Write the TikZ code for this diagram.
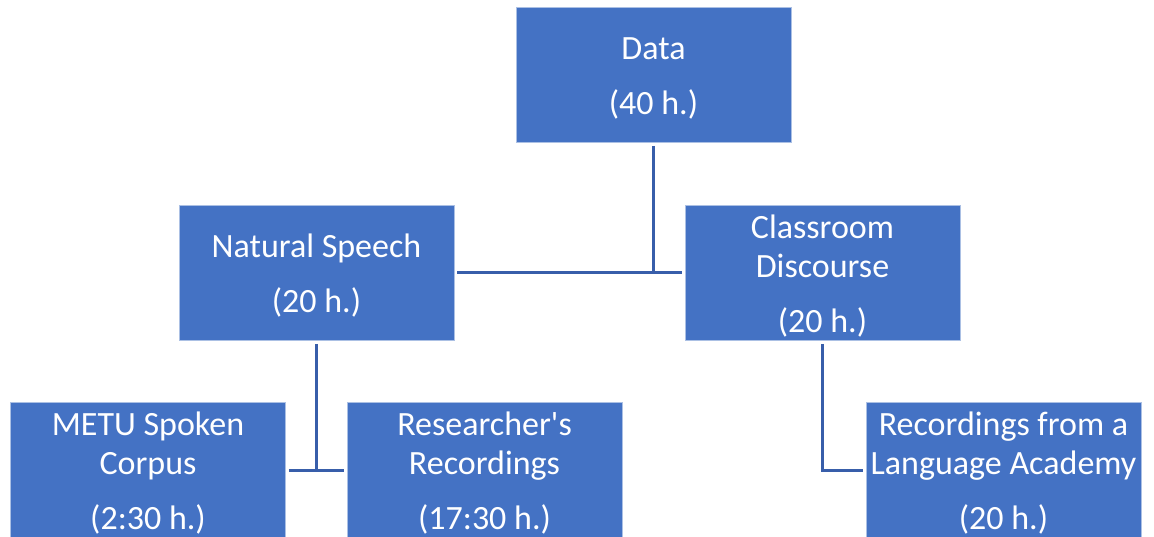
\documentclass[tikz,border=0pt]{standalone}
\usepackage{fontspec}
\setmainfont{Carlito}
\definecolor{boxblue}{RGB}{68,114,196}
\definecolor{linkblue}{RGB}{56,94,170}
\newcommand{\boxstrut}{\rule{0pt}{29pt}}

\begin{document}
\begin{tikzpicture}[x=1pt, y=-1pt,
          box/.style ={rectangle, fill=boxblue, draw=white!55!boxblue, line width=0.8,
                       minimum width=275, minimum height=135, inner sep=0,
                       text=white, align=center,
                       font=\fontsize{34}{39}\selectfont},
          link/.style ={draw=linkblue, line width=3, shorten <=3, shorten >=3}
          ]
\useasboundingbox (0,0) rectangle (1154,537);

% top level
\node[box] (data) at (653.5, 75) {\boxstrut Data\\[16pt](40 h.)};

% second level
\node[box] (nat) at (316.5, 273) {\boxstrut Natural Speech\\[16pt](20 h.)};
\node[box] (cls) at (822.5, 273) {\boxstrut Classroom\\Discourse\\[16pt](20 h.)};

% third level
\node[box] (metu) at (148, 470) {\boxstrut METU Spoken\\Corpus\\[16pt](2:30 h.)};
\node[box] (res) at (484.5, 470) {\boxstrut Researcher\textquotesingle s\\Recordings\\[16pt](17:30 h.)};
\node[box] (lang) at (1003.5, 470) {\boxstrut Recordings from a\\Language Academy\\[16pt](20 h.)};

% connectors
\draw[link] (nat.east) -- (cls.west);
\draw[link, shorten >=0] (data.south) -- (data.south |- nat.east);
\draw[link] (metu.east) -- (res.west);
\draw[link, shorten >=0] (nat.south) -- (nat.south |- metu.east);
\draw[link] (cls.south) -- (cls.south |- lang.west) -- (lang.west);
\end{tikzpicture}
\end{document}
